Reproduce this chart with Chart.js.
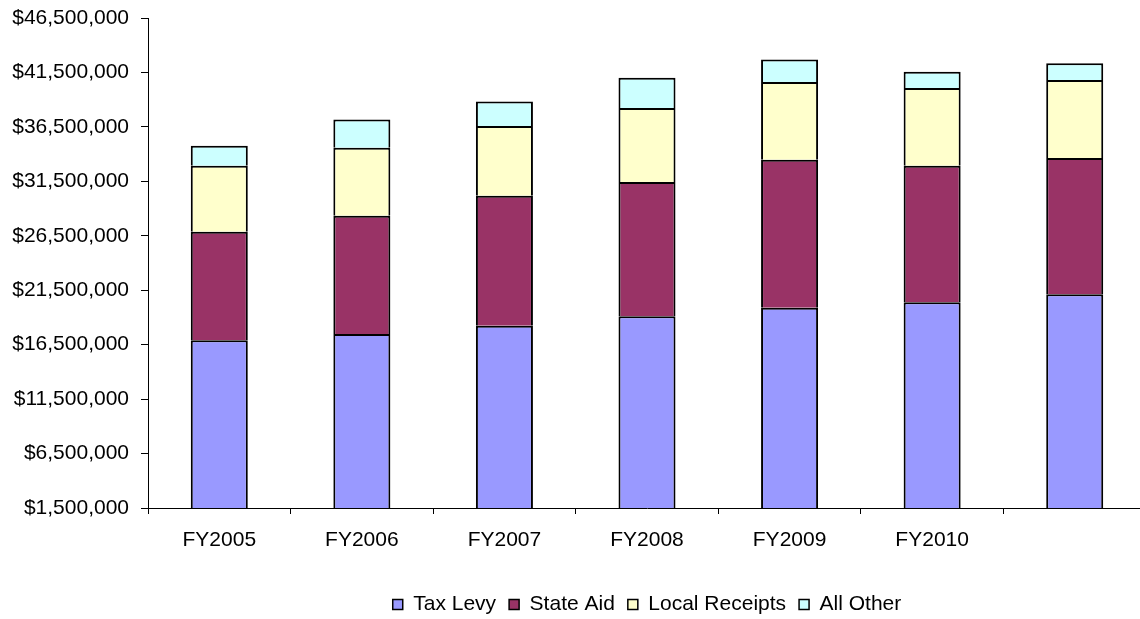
<!DOCTYPE html>
<html>
<head>
<meta charset="utf-8">
<script src="https://cdn.jsdelivr.net/npm/chart.js@4.4.1/dist/chart.umd.min.js"></script>
<style>
  html, body { margin: 0; padding: 0; background: #fff; overflow: hidden; }
  canvas { display: block; }
</style>
</head>
<body>
<canvas id="revChart" width="1148" height="625"></canvas>
<script>
const years = ['FY2005', 'FY2006', 'FY2007', 'FY2008', 'FY2009', 'FY2010', ''];
const taxLevy = [16910000, 17490000, 18230000, 19120000, 19880000, 20400000, 21140000];
const stateAid = [9960000, 10850000, 11950000, 12310000, 13610000, 12530000, 12500000];
const localReceipts = [6060000, 6250000, 6400000, 6810000, 7140000, 7140000, 7170000];
const allOther = [1840000, 2600000, 2260000, 2780000, 2050000, 1500000, 1530000];
const yMin = 1500000;
const yMax = 46500000;
const yStep = 5000000;

const font = { family: '"Liberation Sans", Arial, sans-serif', size: 21 };

function ui_stack() {
    const ctx = document.getElementById('revChart');
    // only top edge per segment, so the joins stay 2px like the original
    const bar = {
        borderColor: '#000',
        borderWidth: { left: 2, right: 2, top: 2, bottom: 0 },
        borderSkipped: false,
        barPercentage: 0.4,
        categoryPercentage: 1
    };
    const data = {
        labels: years,
        datasets: [
            Object.assign({ label: 'Tax Levy', data: taxLevy, backgroundColor: '#9999FF' }, bar),
            Object.assign({ label: 'State Aid', data: stateAid, backgroundColor: '#993366' }, bar),
            Object.assign({ label: 'Local Receipts', data: localReceipts, backgroundColor: '#FFFFCC' }, bar),
            Object.assign({ label: 'All Other', data: allOther, backgroundColor: '#CCFFFF' }, bar)
        ]
    };
    const option = {
        responsive: false,
        animation: false,
        layout: { padding: { top: 18, right: 2, left: 0, bottom: 0 } },
        plugins: {
            tooltip: { enabled: false },
            legend: {
                position: 'bottom',
                fullSize: false,
                labels: {
                    boxWidth: 10,
                    boxHeight: 10,
                    padding: 13,
                    color: '#000',
                    font: font
                }
            }
        },
        scales: {
            x: {
                stacked: true,
                grid: { drawOnChartArea: false, tickLength: 6, tickColor: '#000', offset: true },
                border: { color: '#000', width: 1 },
                ticks: { color: '#000', font: font, padding: 14, maxRotation: 0 },
                afterFit: (s) => { s.height = 73; }
            },
            y: {
                stacked: true,
                min: yMin,
                max: yMax,
                grid: { drawOnChartArea: false, tickLength: 7, tickColor: '#000' },
                border: { color: '#000', width: 1 },
                ticks: {
                    stepSize: yStep,
                    color: '#000',
                    font: font,
                    padding: 12,
                    callback: (v) => '$' + Number(v).toLocaleString('en-US')
                },
                afterFit: (s) => {
                    s.width = 148;
                    s.paddingTop = 8;
                    s.paddingBottom = 8;
                }
            }
        }
    };
    new Chart(ctx, {
        type: 'bar',
        data: data,
        options: option
    });
}
ui_stack();
</script>
</body>
</html>
